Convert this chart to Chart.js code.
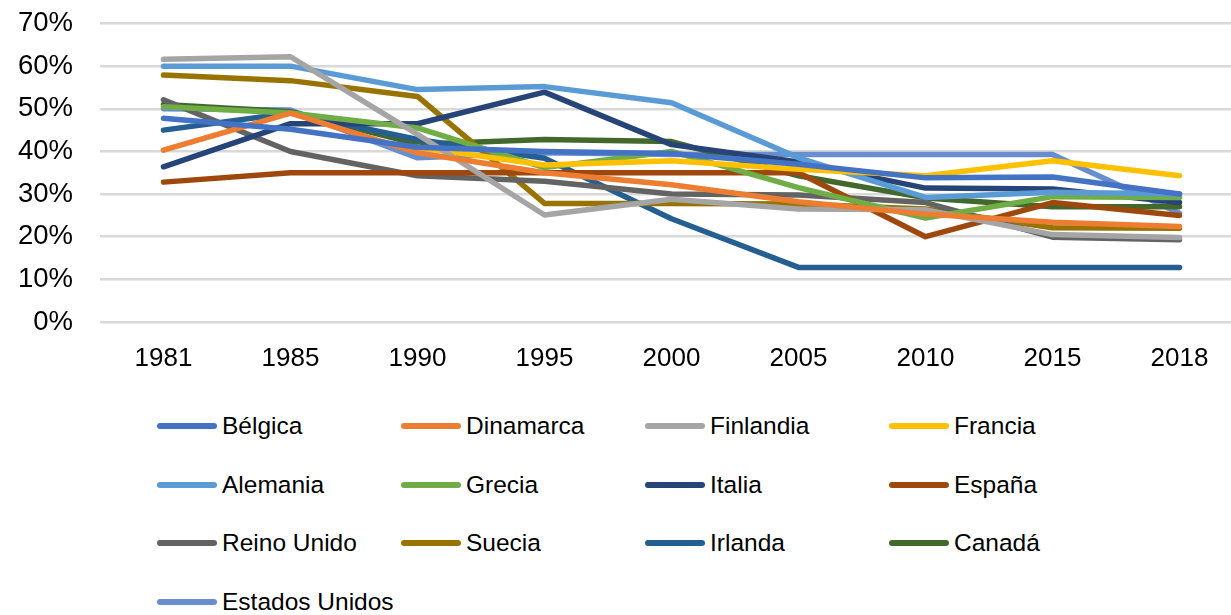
<!DOCTYPE html>
<html>
<head>
<meta charset="utf-8">
<script src="https://cdn.jsdelivr.net/npm/chart.js@4"></script>
<style>
  body { margin: 0; background: #fff; overflow: hidden; font-family: "Liberation Sans", Arial, sans-serif; }
  #wrap { position: relative; width: 1243px; height: 615px; overflow: hidden; }
  #chart-box { position: absolute; left: 0; top: -20px; width: 1243px; height: 412px; }
  #legend { position: absolute; left: 157px; top: 411px; }
  .leg-item { position: absolute; display: flex; align-items: center; height: 30px; white-space: nowrap;
              font-size: 24.5px; color: #000; }
  .leg-line { width: 60px; height: 6px; border-radius: 3px; margin-right: 5px; }
</style>
</head>
<body>
<div id="wrap">
  <div id="chart-box"><canvas id="chart"></canvas></div>
  <div id="legend"></div>
</div>
<script>
// años y series (porcentaje)
const years = ['1981', '1985', '1990', '1995', '2000', '2005', '2010', '2015', '2018'];

const belgica       = [47.8, 45.2, 41.0, 40.0, 39.5, 37.0, 33.8, 34.0, 30.0];
const dinamarca     = [40.3, 49.0, 39.7, 35.0, 32.2, 28.2, 25.3, 23.4, 22.4];
const finlandia     = [61.6, 62.2, 44.0, 25.1, 28.8, 26.5, 26.3, 20.5, 19.8];
const francia       = [null, null, 41.0, 36.8, 37.8, 35.8, 34.3, 37.8, 34.3];
const alemania      = [60.0, 60.0, 54.5, 55.2, 51.4, 38.5, 29.2, 30.4, 30.0];
const grecia        = [50.5, 49.0, 45.5, 36.2, 40.0, 31.5, 24.4, 29.4, 29.2];
const italia        = [36.4, 46.5, 46.5, 53.9, 41.6, 37.5, 31.4, 31.2, 28.0];
const espana        = [32.8, 35.0, 35.0, 35.0, 35.0, 35.0, 20.0, 28.0, 25.0];
const reinoUnido    = [52.1, 40.0, 34.3, 33.0, 30.0, 29.8, 28.0, 19.9, 19.3];
const suecia        = [57.9, 56.6, 52.9, 27.8, 27.8, 27.7, 26.5, 22.1, 22.0];
const irlanda       = [45.0, 49.0, 42.8, 38.4, 24.2, 12.8, 12.8, 12.8, 12.8];
const canada        = [51.0, 49.3, 41.7, 42.8, 42.3, 34.3, 29.1, 27.0, 27.0];
const estadosUnidos = [50.0, 49.7, 38.5, 39.7, 39.3, 39.3, 39.3, 39.3, 25.5];

const yTicks = [0, 10, 20, 30, 40, 50, 60, 70];

const series = [
    ['Bélgica', belgica, '#4472C4'],
    ['Dinamarca', dinamarca, '#ED7D31'],
    ['Finlandia', finlandia, '#A5A5A5'],
    ['Francia', francia, '#FFC000'],
    ['Alemania', alemania, '#5B9BD5'],
    ['Grecia', grecia, '#70AD47'],
    ['Italia', italia, '#264478'],
    ['España', espana, '#9E480E'],
    ['Reino Unido', reinoUnido, '#636363'],
    ['Suecia', suecia, '#997300'],
    ['Irlanda', irlanda, '#255E91'],
    ['Canadá', canada, '#43682B'],
    ['Estados Unidos', estadosUnidos, '#698ED0']
];

const datasets = series.map(([label, data, color]) => ({
    label: label,
    data: data,
    borderColor: color,
    backgroundColor: color,
    borderWidth: 5.5,
    borderCapStyle: 'round',
    borderJoinStyle: 'round',
    pointRadius: 0,
    pointHoverRadius: 0,
    tension: 0,
    spanGaps: false
}));

const chart = new Chart(document.getElementById('chart'), {
    type: 'line',
    data: { labels: years, datasets: datasets },
    options: {
        responsive: true,
        maintainAspectRatio: false,
        animation: false,
        layout: { padding: { top: 2, right: 0, bottom: 0, left: 0 } },
        plugins: { legend: { display: false }, tooltip: { enabled: false } },
        scales: {
            x: {
                offset: true,
                grid: { display: false, drawTicks: false },
                border: { display: false },
                ticks: { color: '#000', padding: 21, maxRotation: 0, font: { family: 'Liberation Sans', size: 26 } },
                afterFit: (s) => { s.height = 70; }
            },
            y: {
                min: 0,
                max: 70,
                afterBuildTicks: (s) => { s.ticks = yTicks.map(v => ({ value: v })); },
                grid: { color: '#d9d9d9', lineWidth: 2.5, drawTicks: false },
                border: { display: false },
                ticks: { color: '#000', padding: 27, callback: (v) => v + '%', font: { family: 'Liberation Sans', size: 27.5 } },
                afterFit: (s) => { s.width = 100; }
            }
        }
    }
});

// leyenda en rejilla de 4 columnas
const legend = document.getElementById('legend');
const colW = 244, rowH = 58.5;
chart.data.datasets.forEach((ds, i) => {
    const item = document.createElement('div');
    item.className = 'leg-item';
    item.style.left = (i % 4) * colW + 'px';
    item.style.top = Math.floor(i / 4) * rowH + 'px';
    item.innerHTML = `<span class="leg-line" style="background:${ds.borderColor}"></span><span>${ds.label}</span>`;
    legend.appendChild(item);
});
</script>
</body>
</html>
